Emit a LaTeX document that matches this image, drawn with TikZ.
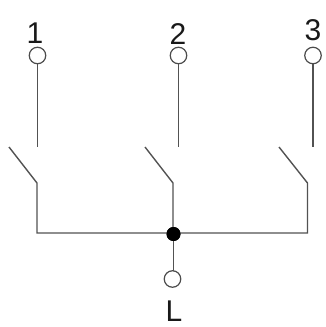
\documentclass[tikz,border=0pt]{standalone}
\usepackage{fontspec}
\setmainfont{Liberation Sans}
\begin{document}
\begin{tikzpicture}[x=1pt,y=-1pt,
  wire/.style={draw=black!68,line width=1.4pt,line join=miter},
  term/.style={circle,draw=black!70,line width=1.2pt,fill=white,minimum size=16.5pt,inner sep=0pt,outer sep=0pt},
  junction/.style={circle,fill=black,minimum size=14pt,inner sep=0pt,outer sep=0pt},
  lab/.style={font=\fontsize{30}{30}\selectfont,text=black!90,inner sep=0pt}]
\useasboundingbox (0,0) rectangle (326,327);
\node[term] (t1) at (37.5,55.5) {};
\node[term] (t2) at (178.5,55.5) {};
\node[term] (t3) at (313,55.5) {};
\node[term] (tL) at (172.5,279) {};
\node[junction] (j) at (173.5,234) {};
\coordinate (e1) at (37.5,147);
\coordinate (e2) at (178.5,147);
\coordinate (e3) at (313,147);
\coordinate (a1) at (9,147);
\coordinate (b1) at (37,183);
\coordinate (c1) at (37,233);
\coordinate (a2) at (145,147);
\coordinate (b2) at (173,183);
\coordinate (a3) at (279,147);
\coordinate (b3) at (307.5,183);
\coordinate (c3) at (307.5,233);
\draw[wire] (t1) -- (e1);
\draw[wire] (t2) -- (e2);
\draw[wire] (t3) -- (e3);
\draw[wire] (a1) -- (b1) -- (c1) -- (c3) -- (b3) -- (a3);
\draw[wire] (a2) -- (b2) -- (b2 |- j);
\draw[wire] (j) -- (j |- tL.north);
\node[junction] at (j) {};
\node[lab] (n1) at (35,33.5) {1};
\node[lab] (n2) at (178,34) {2};
\node[lab] (n3) at (313,30) {3};
\node[lab] (nL) at (174,311.5) {L};
\end{tikzpicture}
\end{document}
